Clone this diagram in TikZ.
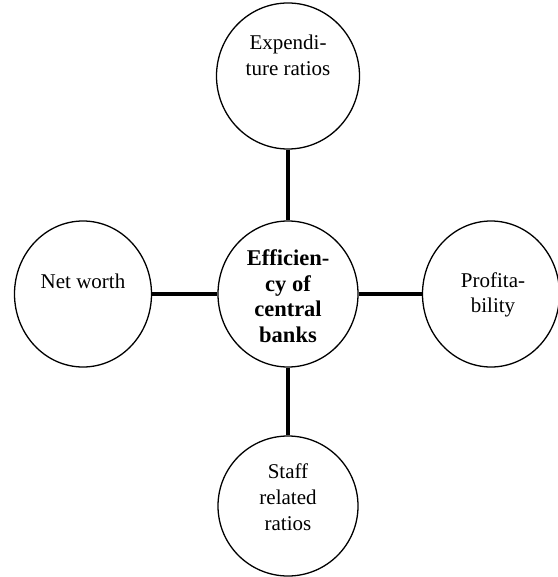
\documentclass[tikz,border=0pt]{standalone}
\usepackage{fontspec}
\setmainfont{Liberation Serif}
\usetikzlibrary{shapes.geometric}
\begin{document}
\begin{tikzpicture}[x=1pt,y=-1pt,
  bub/.style={draw=black,line width=1.3pt,ellipse,minimum width=#1,minimum height=146pt,inner sep=0pt},
  bub/.default=140pt,
  lbl/.style={anchor=base,align=center,font=\fontsize{21}{26}\selectfont,inner sep=0pt},
  link/.style={line width=4.8pt}]
\useasboundingbox (0,0) rectangle (557,577);
\node[bub=143pt] (top) at (288,76) {};
\node[bub=140pt] (mid) at (288,294) {};
\node[bub=137pt] (left) at (83,294) {};
\node[bub=137pt] (right) at (491,294) {};
\node[bub=140pt,minimum height=140pt] (bot) at (288,506) {};
\node[lbl] (ttop) at (288,76) {Expendi-\\ture ratios};
\node[lbl,font=\fontsize{22.5}{25.5}\selectfont\bfseries] (tmid) at (288,342) {Efficien-\\cy of\\central\\banks};
\node[lbl] (tleft) at (83,288) {Net worth};
\node[lbl,font=\fontsize{21}{24.5}\selectfont] (tright) at (493,312) {Profita-\\bility};
\node[lbl] (tbot) at (288,530) {Staff\\related\\ratios};
\draw[link] (top.south) -- (mid.north);
\draw[link] (left.east) -- (mid.west);
\draw[link] (mid.east) -- (right.west);
\draw[link] (mid.south) -- (bot.north);
\end{tikzpicture}
\end{document}
